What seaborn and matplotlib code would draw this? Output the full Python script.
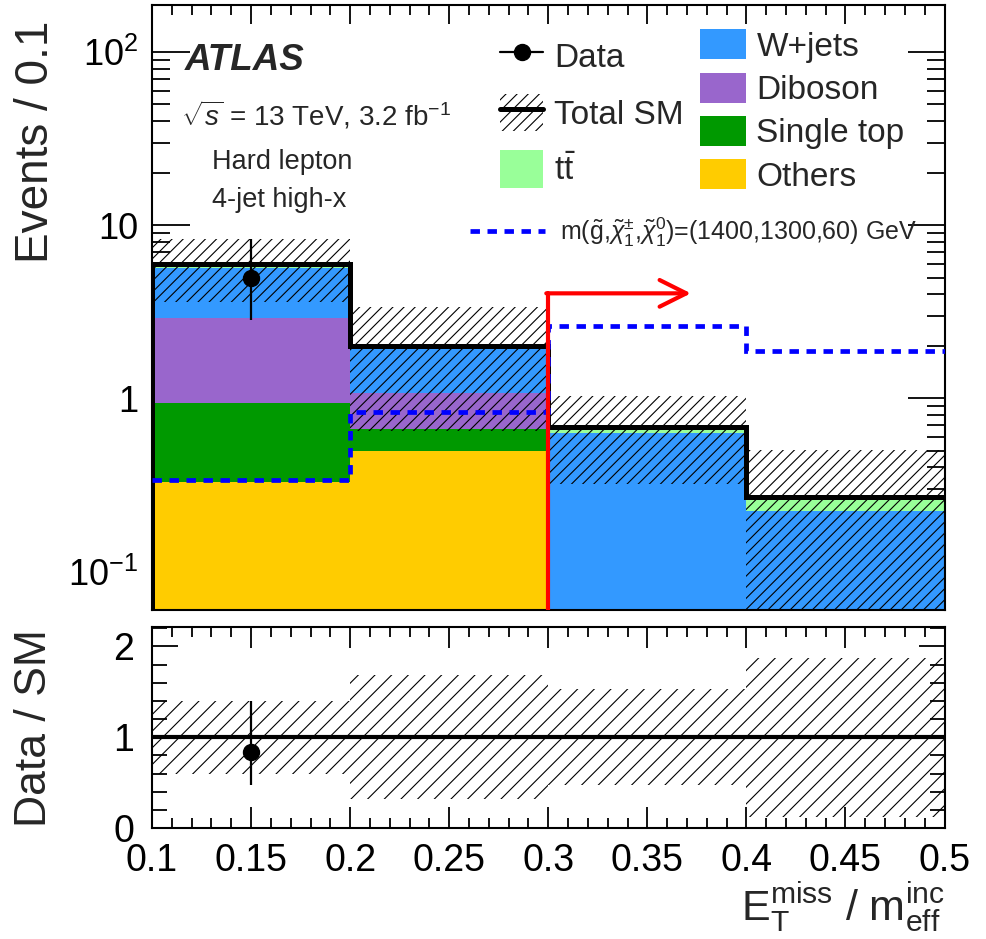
import numpy as np
import pandas as pd
import matplotlib
matplotlib.use("Agg")
import matplotlib.pyplot as plt
import seaborn as sns
from matplotlib.patches import Patch
from matplotlib.lines import Line2D
from matplotlib.ticker import MultipleLocator, FixedLocator, FuncFormatter, LogLocator, NullFormatter

# ---------------- data ----------------
bin_edges = [0.1, 0.2, 0.3, 0.4, 0.5]
processes = ["ttbar", "W+jets", "Diboson", "Single top", "Others"]
ttbar = [0.36, 0.02, 0.045, 0.043]
wjets = [2.74, 0.93, 0.635, 0.225]
diboson = [1.96, 0.40, 0.0, 0.0]
single_top = [0.61, 0.176, 0.0, 0.0]
others = [0.33, 0.494, 0.0, 0.0]
signal = [0.34, 0.84, 2.64, 1.89]
data_x = [0.15]
data_y = [5.0]
data_err_lo = [2.16]
data_err_hi = [3.38]
band_rel_lo = [0.60, 0.32, 0.47, 0.12]
band_rel_hi = [1.40, 1.68, 1.53, 1.87]
sr_cut = 0.3
sr_arrow_end = 0.372
sr_arrow_y = 4.05

colors = {"ttbar": "#99FF99", "W+jets": "#3399FF", "Diboson": "#9966CC",
          "Single top": "#009900", "Others": "#FFCC00"}
legend_labels = {"ttbar": r"t$\bar{\mathrm{t}}$", "W+jets": "W+jets", "Diboson": "Diboson",
                 "Single top": "Single top", "Others": "Others"}

# ---------------- style ----------------
sns.set_theme(style="ticks")
plt.rcParams["font.family"] = ["Liberation Sans", "DejaVu Sans"]
plt.rcParams["mathtext.fontset"] = "custom"
plt.rcParams["mathtext.rm"] = "Liberation Sans"
plt.rcParams["mathtext.it"] = "Liberation Sans:italic"
plt.rcParams["mathtext.bf"] = "Liberation Sans:bold"
plt.rcParams["mathtext.sf"] = "Liberation Sans"
plt.rcParams["hatch.linewidth"] = 0.8
plt.rcParams["axes.linewidth"] = 1.5

fig = plt.figure(figsize=(9.87, 9.39), dpi=100)
ax = fig.add_axes([0.154, 0.3504, 0.803, 0.644])
ax2 = fig.add_axes([0.154, 0.118, 0.803, 0.214])

edges = np.array(bin_edges)
centers = 0.5 * (edges[:-1] + edges[1:])
vals = {"ttbar": ttbar, "W+jets": wjets, "Diboson": diboson,
        "Single top": single_top, "Others": others}
rows = []
for p in processes:
    for c, v in zip(centers, vals[p]):
        rows.append({"x": c, "w": v, "process": p})
df = pd.DataFrame(rows)

ymin, ymax = 0.06, 187.0

sns.histplot(data=df, x="x", weights="w", hue="process", hue_order=processes,
             multiple="stack", bins=bin_edges, palette=colors, alpha=1.0,
             linewidth=0, legend=False, ax=ax, element="bars", zorder=2)
ax.set_yscale("log")

total = np.sum([np.array(vals[p]) for p in processes], axis=0)
band_lo = total * np.array(band_rel_lo)
band_hi = total * np.array(band_rel_hi)

ax.fill_between(edges, np.append(band_lo, band_lo[-1]), np.append(band_hi, band_hi[-1]),
                step="post", facecolor="none", edgecolor="black", hatch="///",
                linewidth=0, zorder=3)

x_step = np.repeat(edges, 2)[:-1]
y_step = np.concatenate([[ymin * 0.5], np.repeat(total, 2)])
ax.plot(x_step, y_step, color="black", lw=3.6, zorder=4, solid_joinstyle="miter")

ax.stairs(signal, edges, baseline=None, color="#0000FF", lw=3.4,
          linestyle=(0, (2.0, 1.6)), zorder=5)

# signal region arrow
ax.plot([sr_cut, sr_cut], [ymin * 0.5, sr_arrow_y], color="red", lw=3.0, zorder=6)
ax.annotate("", xy=(sr_arrow_end, sr_arrow_y), xytext=(sr_cut - 0.001, sr_arrow_y),
            arrowprops=dict(arrowstyle="->,head_length=1.6,head_width=0.8",
                            color="red", lw=3.0, shrinkA=0, shrinkB=0), zorder=6)

ax.errorbar(data_x, data_y, yerr=[data_err_lo, data_err_hi], fmt="o", color="black",
            ms=11.5, lw=1.6, capsize=0, zorder=7)

ax.set_xlim(edges[0], edges[-1])
ax.set_ylim(ymin, ymax)
ax.set_xlabel("")
ax.set_ylabel("Events / 0.1", fontsize=33, loc="top")
ax.yaxis.set_label_coords(-0.118, 0.975)

ax.yaxis.set_major_locator(FixedLocator([0.1, 1, 10, 100]))
ax.set_yticklabels([r"$10^{-1}$", "1", "10", r"$10^{2}$"])
ax.yaxis.set_minor_locator(LogLocator(base=10, subs=np.arange(2, 10)))
ax.yaxis.set_minor_formatter(NullFormatter())
ax.xaxis.set_major_locator(MultipleLocator(0.05))
ax.xaxis.set_minor_locator(MultipleLocator(0.01))
ax.tick_params(axis="both", which="both", direction="in", top=True, right=True,
               labelbottom=False, width=1.3, colors="black")
ax.tick_params(axis="y", which="major", length=27, labelsize=26, pad=10)
ax.tick_params(axis="y", which="minor", length=13)
ax.tick_params(axis="x", which="major", length=14)
ax.tick_params(axis="x", which="minor", length=7)
for s in ax.spines.values():
    s.set_color("black")
    s.set_linewidth(1.5)

# text
ax.text(0.041, 0.909, "ATLAS", transform=ax.transAxes, fontsize=26.5,
        fontweight="bold", fontstyle="italic", va="center", ha="left")
ax.text(0.036, 0.818, r"$\sqrt{s}$ = 13 TeV, 3.2 fb$^{-1}$", transform=ax.transAxes,
        fontsize=20, va="center", ha="left")
ax.text(0.0757, 0.74, "Hard lepton", transform=ax.transAxes, fontsize=19.5,
        va="center", ha="left")
ax.text(0.0757, 0.678, "4-jet high-x", transform=ax.transAxes, fontsize=19.5,
        va="center", ha="left")

# legends
h_data = Line2D([], [], color="black", marker="o", ms=11.5, lw=1.6)
h_tot = (Patch(facecolor="none", edgecolor="black", hatch="///", linewidth=0),
         Line2D([], [], color="black", lw=3.6))
h_tt = Patch(facecolor=colors["ttbar"], edgecolor="none")
leg1 = ax.legend([h_data, h_tot, h_tt], ["Data", "Total SM", legend_labels["ttbar"]],
                 loc="upper left", bbox_to_anchor=(0.439, 0.947), frameon=False,
                 fontsize=24, handlelength=1.3, handleheight=1.35, handletextpad=0.33,
                 labelspacing=0.57, borderpad=0, borderaxespad=0)
ax.add_artist(leg1)
right = ["W+jets", "Diboson", "Single top", "Others"]
leg2 = ax.legend([Patch(facecolor=colors[p], edgecolor="none") for p in right],
                 [legend_labels[p] for p in right],
                 loc="upper left", bbox_to_anchor=(0.692, 0.96), frameon=False,
                 fontsize=24, handlelength=1.38, handleheight=1.0, handletextpad=0.3,
                 labelspacing=0.30, borderpad=0, borderaxespad=0)
ax.add_artist(leg2)
h_sig = Line2D([], [], color="#0000FF", lw=3.4, linestyle=(0, (2.0, 1.6)))
ax.legend([h_sig],
          [r"m($\tilde{\mathrm{g}}$,$\tilde{\chi}_{1}^{\pm}$,$\tilde{\chi}_{1}^{0}$)=(1400,1300,60) GeV"],
          loc="upper left", bbox_to_anchor=(0.401, 0.652), frameon=False,
          fontsize=18, handlelength=3.0, handletextpad=0.6, borderpad=0, borderaxespad=0)

# ---------------- ratio panel ----------------
rlo = np.array(band_rel_lo)
rhi = np.array(band_rel_hi)
ax2.fill_between(edges, np.append(rlo, rlo[-1]), np.append(rhi, rhi[-1]), step="post",
                 facecolor="none", edgecolor="black", hatch="//", linewidth=0, zorder=2)
ax2.axhline(1.0, color="black", lw=3.0, zorder=3)
idx = np.digitize(data_x, edges) - 1
r_y = np.array(data_y) / total[idx]
r_lo = np.array(data_err_lo) / total[idx]
r_hi = np.array(data_err_hi) / total[idx]
ax2.errorbar(data_x, r_y, yerr=[r_lo, r_hi], fmt="o", color="black", ms=11.5, lw=1.6,
             capsize=0, zorder=4)
ax2.set_xlim(edges[0], edges[-1])
ax2.set_ylim(0, 2.21)
ax2.yaxis.set_major_locator(FixedLocator([0, 1, 2]))
ax2.yaxis.set_minor_locator(MultipleLocator(0.2))
ax2.xaxis.set_major_locator(MultipleLocator(0.05))
ax2.xaxis.set_minor_locator(MultipleLocator(0.01))
ax2.xaxis.set_major_formatter(FuncFormatter(lambda v, p: "%g" % round(v, 3)))
ax2.tick_params(axis="both", which="both", direction="in", top=True, right=True,
                width=1.3, colors="black")
ax2.tick_params(axis="x", which="major", length=15, labelsize=27, pad=11)
ax2.tick_params(axis="x", which="minor", length=7)
ax2.tick_params(axis="y", which="major", length=19, labelsize=27, pad=13)
ax2.tick_params(axis="y", which="minor", length=11)
for s in ax2.spines.values():
    s.set_color("black")
    s.set_linewidth(1.5)
ax2.set_ylabel("Data / SM", fontsize=32)
ax2.yaxis.set_label_coords(-0.122, 0.5)
ax2.set_xlabel(r"E$_{\mathrm{T}}^{\mathrm{miss}}$ / m$_{\mathrm{eff}}^{\mathrm{inc}}$",
               fontsize=31, loc="right")
ax2.xaxis.set_label_coords(1.0, -0.26)

fig.savefig("out.png", dpi=100, facecolor="white")
